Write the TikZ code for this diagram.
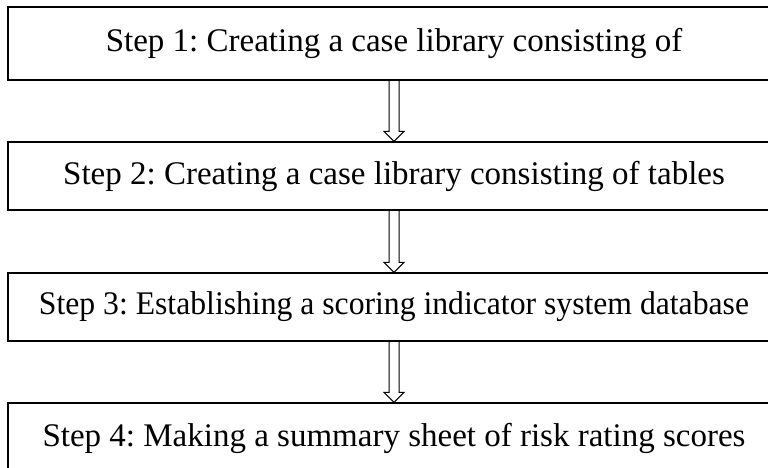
\documentclass[tikz,border=0pt]{standalone}
\usepackage{fontspec}
\usepackage{graphicx}
\setmainfont{Liberation Serif}
\usetikzlibrary{calc}
\frenchspacing

\begin{document}
\begin{tikzpicture}[x=1pt, y=-1pt,
  stepbox/.style={draw, line width=1.3pt, minimum width=772pt, minimum height=68pt,
    inner sep=0pt, font=\fontsize{33}{39}\selectfont},
  blockarrow/.style={draw, line width=1pt}]
\useasboundingbox (0,0) rectangle (768,468);
\clip (0,0) rectangle (768,468);
% the four steps, one under the other
\node[stepbox, minimum height=73pt] (s1) at (394,43.5) {Step 1: Creating a case library consisting of};
\node[stepbox] (s2) at (394,176) {Step 2: Creating a case library consisting of tables};
\node[stepbox] (s3) at (394,307) {\scalebox{0.96}[1]{Step 3: Establishing a scoring indicator system database}};
\node[stepbox, minimum height=70pt] (s4) at (394,438) {Step 4: Making a summary sheet of risk rating scores};
% hollow block arrows between the boxes
\foreach \a/\b in {s1/s2, s2/s3, s3/s4}
  \draw[blockarrow] ($(\a.south)+(-5,0)$) -- ($(\b.north)+(-5,-10)$) -- ($(\b.north)+(-10,-10)$)
    -- (\b.north) -- ($(\b.north)+(10,-10)$) -- ($(\b.north)+(5,-10)$) -- ($(\a.south)+(5,0)$);
\end{tikzpicture}
\end{document}
